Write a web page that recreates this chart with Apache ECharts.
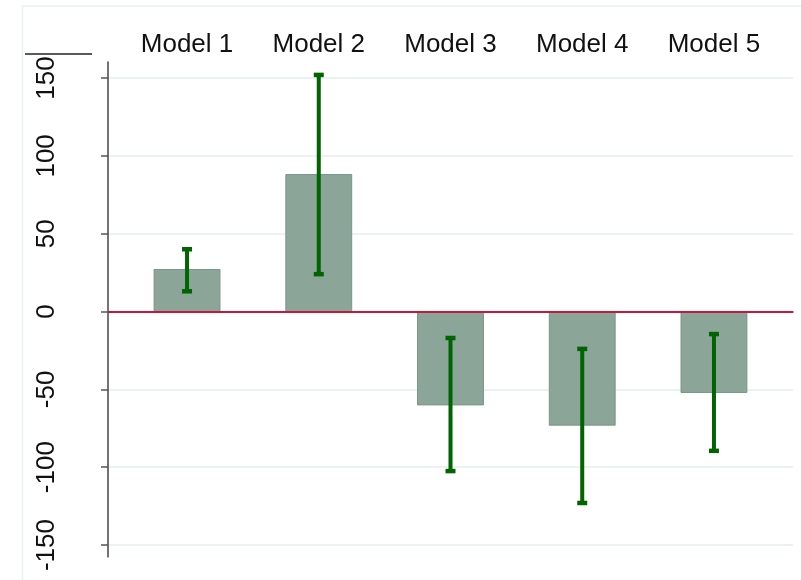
<!DOCTYPE html>
<html>
<head>
<meta charset="utf-8">
<script src="https://cdn.jsdelivr.net/npm/echarts@6/dist/echarts.min.js"></script>
<style>
  html, body { margin: 0; padding: 0; background: #fff; }
  #chart { width: 801px; height: 580px; }
</style>
</head>
<body>
<div id="chart"></div>
<script>
// Model estimates with their confidence bounds
const models = ['Model 1', 'Model 2', 'Model 3', 'Model 4', 'Model 5'];
const estimates = [27, 88, -60, -73, -52];
const lowerBounds = [13, 24, -102.5, -123, -89.5];
const upperBounds = [40, 152, -17, -24, -14.5];
const yTicks = [-150, -100, -50, 0, 50, 100, 150];
const xPositions = [1, 2, 3, 4, 5];

const FONT = '"Liberation Sans", Arial, sans-serif';
const barHalfWidth = 0.25;
const capHalfPx = 5;

const barData = models.map((m, i) => [xPositions[i], estimates[i]]);
const errData = models.map((m, i) => [xPositions[i], lowerBounds[i], upperBounds[i]]);

const chart = echarts.init(document.getElementById('chart'), null, { renderer: 'canvas' });

chart.setOption({
  animation: false,
  backgroundColor: '#ffffff',
  grid: { left: 108, right: 8, top: 62, bottom: 23, containLabel: false },
  xAxis: {
    type: 'value',
    position: 'top',
    min: 0.4,
    max: 5.6,
    axisLine: { show: true, lineStyle: { color: '#555555', width: 1.5 } },
    axisTick: { show: false },
    splitLine: { show: false },
    axisLabel: {
      customValues: xPositions,
      formatter: v => models[Math.round(v) - 1] || '',
      fontFamily: FONT,
      fontSize: 26,
      color: '#111111',
      margin: 4
    }
  },
  yAxis: {
    type: 'value',
    min: -157.7,
    max: 160.3,
    axisLine: { show: true, lineStyle: { color: '#444444', width: 1.5 } },
    axisTick: { show: true, customValues: yTicks, length: 7, lineStyle: { color: '#555555', width: 1.5 } },
    splitLine: { show: true, lineStyle: { color: '#e6eef0', width: 1.5 } },
    axisLabel: {
      customValues: yTicks,
      rotate: 90,
      fontFamily: FONT,
      fontSize: 26,
      color: '#111111',
      margin: 48
    }
  },
  graphic: [
    { type: 'line', shape: { x1: 22, y1: 6, x2: 801, y2: 6 }, style: { stroke: '#e8eff2', lineWidth: 1.5 }, z: 0 },
    { type: 'line', shape: { x1: 22.5, y1: 6, x2: 22.5, y2: 580 }, style: { stroke: '#e8eff2', lineWidth: 1.5 }, z: 0 },
    { type: 'line', shape: { x1: 25, y1: 54, x2: 92, y2: 54 }, style: { stroke: '#222222', lineWidth: 1.5 }, z: 10 }
  ],
  series: [
    {
      type: 'custom',
      name: 'estimate',
      data: barData,
      z: 2,
      renderItem: (params, api) => {
        const x = api.value(0), v = api.value(1);
        const p0 = api.coord([x - barHalfWidth, 0]);
        const p1 = api.coord([x + barHalfWidth, v]);
        return {
          type: 'rect',
          shape: {
            x: Math.min(p0[0], p1[0]),
            y: Math.min(p0[1], p1[1]),
            width: Math.abs(p1[0] - p0[0]),
            height: Math.abs(p1[1] - p0[1])
          },
          style: { fill: '#8ba598', stroke: '#789689', lineWidth: 1 }
        };
      },
      markLine: {
        silent: true,
        symbol: 'none',
        label: { show: false },
        lineStyle: { color: '#c8163c', width: 2, type: 'solid' },
        data: [{ yAxis: 0 }]
      }
    },
    {
      type: 'custom',
      name: 'interval',
      data: errData,
      z: 5,
      renderItem: (params, api) => {
        const x = api.value(0);
        const lo = api.coord([x, api.value(1)]);
        const hi = api.coord([x, api.value(2)]);
        const color = '#006400';
        return {
          type: 'group',
          children: [
            { type: 'line', shape: { x1: lo[0], y1: lo[1], x2: hi[0], y2: hi[1] }, style: { stroke: color, lineWidth: 4 } },
            { type: 'line', shape: { x1: lo[0] - capHalfPx, y1: lo[1], x2: lo[0] + capHalfPx, y2: lo[1] }, style: { stroke: color, lineWidth: 4.5 } },
            { type: 'line', shape: { x1: hi[0] - capHalfPx, y1: hi[1], x2: hi[0] + capHalfPx, y2: hi[1] }, style: { stroke: color, lineWidth: 4.5 } }
          ]
        };
      }
    }
  ]
});
</script>
</body>
</html>
